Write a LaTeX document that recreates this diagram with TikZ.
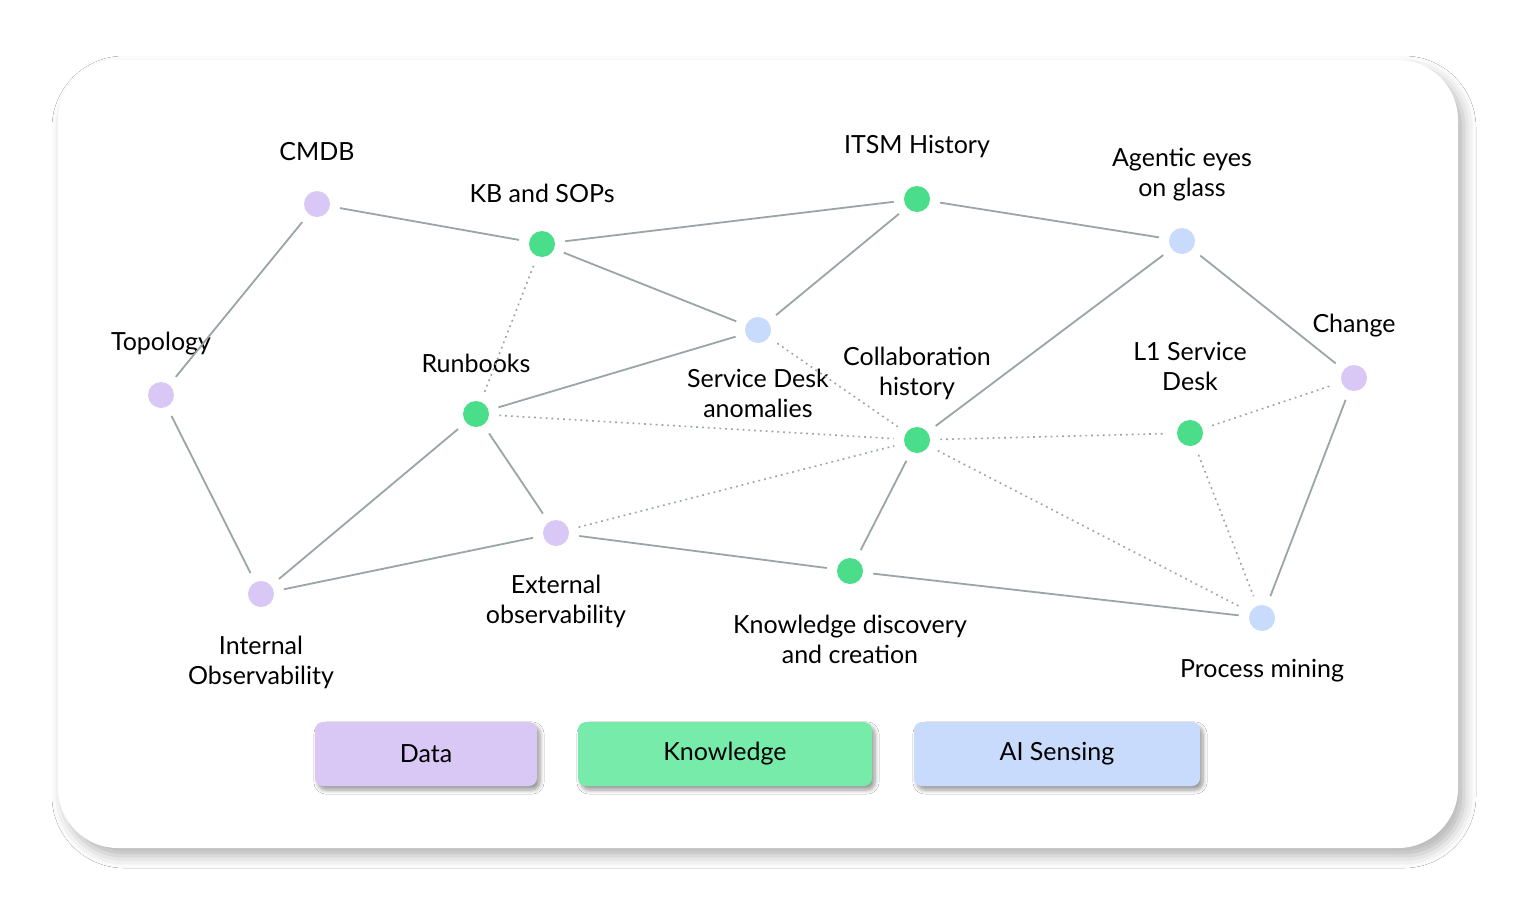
\documentclass[tikz,border=0pt]{standalone}
\usepackage{fontspec}
\setmainfont{Lato}
\usetikzlibrary{shadows.blur}
\definecolor{dpur}{HTML}{D9C8F5}
\definecolor{dgrn}{HTML}{4ADE8A}
\definecolor{dblu}{HTML}{C9DBFC}
\definecolor{lgrn}{HTML}{77EBAA}
\definecolor{edge}{HTML}{9AA5A8}
\begin{document}
\begin{tikzpicture}[x=0.5pt,y=-0.5pt,
  dot/.style={circle,minimum size=13pt,inner sep=0pt},
  pur/.style={dot,fill=dpur},grn/.style={dot,fill=dgrn},blu/.style={dot,fill=dblu},
  lab/.style={font=\fontsize{12.5}{15}\selectfont,align=center,inner sep=0pt},
  e/.style={draw=edge,line width=0.9pt,shorten <=5pt,shorten >=5pt},
  d/.style={e,dotted,line width=0.8pt},
  leg/.style={rounded corners=4pt,minimum height=32pt,font=\fontsize{12.5}{15}\selectfont,blur shadow={shadow xshift=1.5pt,shadow yshift=-2pt,shadow blur steps=6}}]
\useasboundingbox (0,0) rectangle (1516,910);
\fill[white] (0,0) rectangle (1516,910);
\path[fill=white,rounded corners=30pt,blur shadow={shadow xshift=3pt,shadow yshift=-4pt,shadow blur radius=6pt,shadow opacity=30}] (58,60) rectangle (1458,848);
\node[pur] (cmdb) at (317,204) {}; \node[lab] at (317,152) {CMDB};
\node[grn] (kb) at (542,244) {}; \node[lab] at (542,193) {KB and SOPs};
\node[grn] (itsm) at (917,199) {}; \node[lab] at (917,147) {ITSM History};
\node[blu] (age) at (1182,241) {}; \node[lab] at (1182,175) {Agentic eyes\\on glass};
\node[pur] (chg) at (1354,378) {}; \node[lab] at (1354,326) {Change};
\node[pur] (top) at (161,395) {}; \node[lab] at (161,344) {Topology};
\node[grn] (run) at (476,414) {}; \node[lab] at (476,363) {Runbooks};
\node[blu] (sda) at (758,330) {}; \node[lab] at (758,393) {Service Desk\\anomalies};
\node[grn] (col) at (917,440) {}; \node[lab] at (917,373) {Collaboration\\history};
\node[grn] (l1) at (1190,433) {}; \node[lab] at (1190,366) {L1 Service\\Desk};
\node[pur] (ext) at (556,533) {}; \node[lab] at (556,601) {External\\observability};
\node[pur] (int) at (261,594) {}; \node[lab] at (261,662) {Internal\\Observability};
\node[grn] (kd) at (850,571) {}; \node[lab] at (850,639) {Knowledge discovery\\and creation};
\node[blu] (pm) at (1262,618) {}; \node[lab] at (1262,671) {Process mining};
\foreach \a/\b in {cmdb/kb,cmdb/top,top/int,kb/itsm,kb/sda,itsm/sda,itsm/age,age/chg,age/col,sda/run,run/int,run/ext,int/ext,ext/kd,kd/col,kd/pm,chg/pm}
  \draw[e] (\a) -- (\b);
\foreach \a/\b in {kb/run,sda/col,run/col,ext/col,col/l1,l1/chg,l1/pm,col/pm}
  \draw[d] (\a) -- (\b);
\node[leg,fill=dpur,minimum width=111pt] (ldata) at (426,754) {Data};
\node[leg,fill=lgrn,minimum width=147pt] (lkn) at (725,754) {Knowledge};
\node[leg,fill=dblu,minimum width=143pt] (lai) at (1057,754) {AI Sensing};
\end{tikzpicture}
\end{document}
